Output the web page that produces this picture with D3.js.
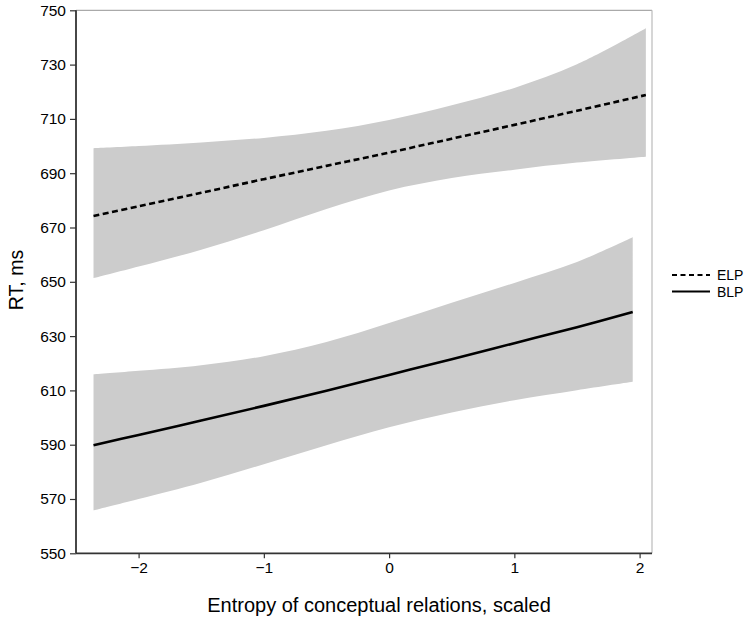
<!DOCTYPE html>
<html><head><meta charset="utf-8">
<script src="https://cdn.jsdelivr.net/npm/d3@7"></script>
<style>body{margin:0;background:#fff}svg{display:block}text{font-family:"Liberation Sans",Arial,sans-serif;fill:#000}</style>
</head><body>
<svg id="c" width="750" height="618"></svg>
<script>
const elpX = [-2.36,-2,-1.5,-1,-0.5,0,0.5,1,1.5,2.05];
const elpFit = [674.2,677.8,682.8,687.8,692.7,697.6,702.7,707.8,713.0,718.8];
const elpUpper = [699.2,700.0,701.3,703.0,705.6,709.6,715.0,721.4,730.1,743.4];
const elpLower = [651.3,655.6,661.8,669.0,676.8,683.6,688.2,691.3,693.9,696.1];

const blpX = [-2.36,-2,-1.5,-1,-0.5,0,0.5,1,1.5,1.945];
const blpFit = [589.8,593.6,598.9,604.3,609.9,615.7,621.5,627.4,633.3,638.9];
const blpUpper = [615.9,617.2,619.3,622.6,627.8,634.8,642.3,649.6,657.3,666.4];
const blpLower = [565.8,570.0,576.0,582.8,589.8,596.4,601.9,606.4,610.1,613.2];

const xTicks = [-2,-1,0,1,2];
const yTicks = [550,570,590,610,630,650,670,690,710,730,750];
const seriesNames = ["ELP","BLP"];

const svg = d3.select("#c");
const L=76, R=652, T=10.3, B=553.3;
const x = d3.scaleLinear().domain([-2, 2]).range([138.6, 639.6]);
const y = d3.scaleLinear().domain([550, 750]).range([B, T]);

const cv = d3.curveCatmullRom.alpha(0.5);
const band = (xs, lo, hi) => d3.area().x((d,i)=>x(xs[i])).y0((d,i)=>y(lo[i])).y1((d,i)=>y(hi[i])).curve(cv)(xs);
const line = (xs, f) => d3.line().x((d,i)=>x(xs[i])).y((d,i)=>y(f[i])).curve(cv)(xs);

svg.append("path").attr("d", band(elpX, elpLower, elpUpper)).attr("fill","#cccccc");
svg.append("path").attr("d", band(blpX, blpLower, blpUpper)).attr("fill","#cccccc");
svg.append("path").attr("d", line(elpX, elpFit)).attr("fill","none").attr("stroke","#000").attr("stroke-width",2.6).attr("stroke-dasharray","6,3.5");
svg.append("path").attr("d", line(blpX, blpFit)).attr("fill","none").attr("stroke","#000").attr("stroke-width",2.6);

// frame
svg.append("line").attr("x1",L).attr("x2",R).attr("y1",T).attr("y2",T).attr("stroke","#aaa").attr("stroke-width",1.2);
svg.append("line").attr("x1",R).attr("x2",R).attr("y1",T).attr("y2",B).attr("stroke","#bbb").attr("stroke-width",1.2);

const yAxis = svg.append("g").attr("transform",`translate(${L},0)`)
  .call(d3.axisLeft(y).tickValues(yTicks).tickSize(6).tickPadding(4).tickFormat(d3.format("d")));
yAxis.select(".domain").attr("stroke","#333").attr("stroke-width",1.8).attr("d",`M0,${T}V${B}`);
yAxis.selectAll(".tick line").attr("stroke","#333").attr("stroke-width",1.2);
yAxis.selectAll("text").attr("font-size",15.5).attr("font-family","Liberation Sans, Arial, sans-serif").attr("fill","#000");

const xAxis = svg.append("g").attr("transform",`translate(0,${B})`)
  .call(d3.axisBottom(x).tickValues(xTicks).tickSize(5).tickPadding(4).tickFormat(d=> d<0 ? "\u2212"+Math.abs(d) : String(d)));
xAxis.select(".domain").attr("stroke","#333").attr("stroke-width",1.8).attr("d",`M${L},0H${R}`);
xAxis.selectAll(".tick line").attr("stroke","#333").attr("stroke-width",1.2);
xAxis.selectAll("text").attr("font-size",15.5).attr("font-family","Liberation Sans, Arial, sans-serif").attr("fill","#000");

svg.append("text").attr("x",379).attr("y",612).attr("text-anchor","middle").attr("font-size",20).text("Entropy of conceptual relations, scaled");
svg.append("text").attr("transform","translate(23,280) rotate(-90)").attr("text-anchor","middle").attr("font-size",19.5).text("RT, ms");

// legend
const lg = svg.append("g");
seriesNames.forEach((n,i)=>{
  const yy = 275 + i*16.5;
  lg.append("line").attr("x1",672).attr("x2",710).attr("y1",yy).attr("y2",yy)
    .attr("stroke","#000").attr("stroke-width",2.2).attr("stroke-dasharray", i===0 ? "5,3.5" : null);
  lg.append("text").attr("x",717).attr("y",yy+5).attr("font-size",14).text(n);
});
</script>
</body></html>
